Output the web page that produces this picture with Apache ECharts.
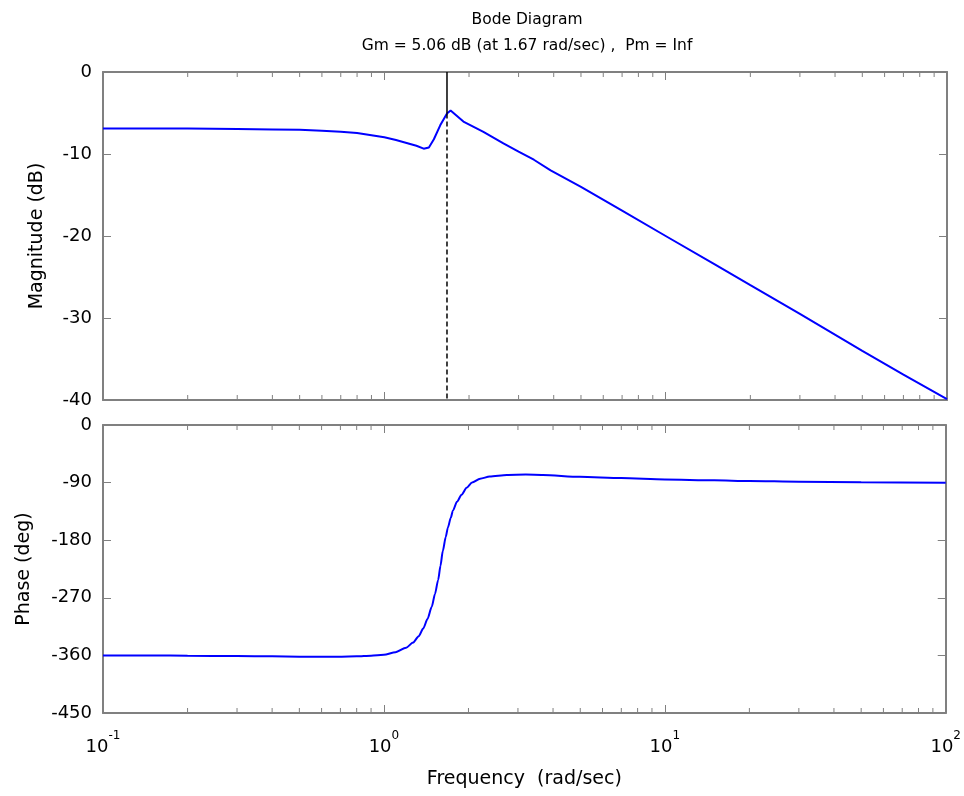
<!DOCTYPE html>
<html>
<head>
<meta charset="utf-8">
<script src="https://cdn.jsdelivr.net/npm/echarts@6/dist/echarts.min.js"></script>
<style>html,body{margin:0;padding:0;background:#fff}#chart{width:964px;height:796px}</style>
</head>
<body>
<div id="chart"></div>
<script>
// ---- data ----
const magFreq = [0.1, 0.2, 0.3, 0.4, 0.5, 0.6, 0.7, 0.8, 0.9, 1.0, 1.1, 1.2, 1.3, 1.38, 1.44, 1.5, 1.58, 1.67, 1.72, 1.91, 2.25, 2.65, 3.0, 3.4, 3.9, 5, 7, 10, 15, 20, 30, 50, 70, 100];
const magDb   = [-6.9, -6.9, -6.95, -7.0, -7.05, -7.15, -7.3, -7.45, -7.7, -7.95, -8.3, -8.65, -9.0, -9.35, -9.2, -8.2, -6.5, -5.06, -4.7, -6.05, -7.3, -8.7, -9.7, -10.7, -12.0, -14.0, -16.9, -20.0, -23.5, -26.0, -29.5, -34.0, -36.9, -39.9];
const phaseFreq = [0.1, 0.15, 0.2, 0.3, 0.4, 0.5, 0.6, 0.7, 0.8, 0.9, 1.0, 1.1, 1.2, 1.27, 1.33, 1.38, 1.43, 1.48, 1.52, 1.56, 1.59, 1.62, 1.66, 1.69, 1.73, 1.76, 1.82, 1.89, 1.97, 2.06, 2.2, 2.38, 2.74, 3.2, 3.68, 4.98, 7, 10, 15, 20, 30, 50, 100];
const phaseDeg  = [-360, -360, -360.5, -361, -361.5, -362, -362, -362, -361.5, -360.5, -359, -355, -348, -340, -330, -318, -303, -284, -264, -242, -220, -197, -175, -160, -145, -134, -120, -109, -98, -90, -84, -80.5, -78, -77.5, -78, -81, -83, -85, -86.5, -87.5, -88.5, -89.3, -90.3];
const gmFreq = 1.67;      // rad/sec
const gmMargin = 5.06;    // dB
const gmCurveDb = -5.06;  // magnitude at the gain-margin frequency
const magTicks = [-40, -30, -20, -10, 0];
const phaseTicks = [-450, -360, -270, -180, -90, 0];
const freqDecades = [0.1, 1, 10, 100];
const minorFreqTicks = [0.2, 0.3, 0.4, 0.5, 0.6, 0.7, 0.8, 0.9, 2, 3, 4, 5, 6, 7, 8, 9, 20, 30, 40, 50, 60, 70, 80, 90];
const titleLine1 = 'Bode Diagram';
const titleLine2 = 'Gm = ' + gmMargin.toFixed(2) + ' dB (at ' + gmFreq + ' rad/sec) ,  Pm = Inf';

// ---- styling ----
const FONT = 'DejaVu Sans';
const frameColor = '#808080';
const chart = echarts.init(document.getElementById('chart'), null, {renderer: 'canvas'});

function xAxisCfg(gridIndex, position, showLabel, name) {
  return {
    type: 'log', logBase: 10, min: freqDecades[0], max: freqDecades[freqDecades.length - 1],
    gridIndex: gridIndex, position: position,
    name: name || '', nameLocation: 'middle', nameGap: 57,
    nameTextStyle: {fontFamily: FONT, fontSize: 19, color: '#000'},
    axisLine: {show: true, onZero: false, lineStyle: {color: frameColor, width: 2}},
    axisTick: {show: true, inside: true, length: 8, lineStyle: {color: frameColor, width: 1}},
    axisLabel: {
      show: showLabel, margin: 24, color: '#000', fontFamily: FONT,
      formatter: function (v) {
        const e = Math.round(Math.log10(v));
        return '{b|10}{s|' + e + '}';
      },
      rich: {
        b: {fontFamily: FONT, fontSize: 18, color: '#000', lineHeight: 20},
        s: {fontFamily: FONT, fontSize: 12, color: '#000', lineHeight: 14, padding: [0, 0, 22, 0]}
      }
    },
    splitLine: {show: false}, minorTick: {show: false}
  };
}
function yAxisCfg(gridIndex, position, showLabel, ticks, name, nameGap) {
  return {
    type: 'value', gridIndex: gridIndex, position: position,
    min: ticks[0], max: ticks[ticks.length - 1], interval: ticks[1] - ticks[0],
    name: name || '', nameLocation: 'middle', nameGap: nameGap || 0,
    nameTextStyle: {fontFamily: FONT, fontSize: 19, color: '#000'},
    axisLine: {show: true, onZero: false, lineStyle: {color: frameColor, width: 2}},
    axisTick: {show: true, inside: true, length: 8, lineStyle: {color: frameColor, width: 1}},
    axisLabel: {show: showLabel, margin: 11, color: '#000', fontFamily: FONT, fontSize: 18},
    splitLine: {show: false}
  };
}
function minorTickSeries(xIdx, yIdx, yTicks) {
  const yMin = yTicks[0], yMax = yTicks[yTicks.length - 1];
  return {
    type: 'custom', xAxisIndex: xIdx, yAxisIndex: yIdx, silent: true, clip: false, z: 5,
    data: minorFreqTicks.map(function (v) { return [v, yMin]; }),
    renderItem: function (params, api) {
      const v = api.value(0);
      const b = api.coord([v, yMin]);
      const t = api.coord([v, yMax]);
      const st = {stroke: frameColor, lineWidth: 1};
      return {type: 'group', children: [
        {type: 'line', shape: {x1: b[0], y1: b[1], x2: b[0], y2: b[1] - 5}, style: st},
        {type: 'line', shape: {x1: t[0], y1: t[1], x2: t[0], y2: t[1] + 5}, style: st}
      ]};
    }
  };
}

const option = {
  animation: false,
  backgroundColor: '#fff',
  title: {
    text: titleLine1 + '\n' + titleLine2,
    left: 522, top: 2, textAlign: 'center',
    textStyle: {fontFamily: FONT, fontSize: 15.5, fontWeight: 'normal', color: '#000', lineHeight: 26}
  },
  grid: [
    {left: 103, top: 72, width: 844, height: 328, containLabel: false},
    {left: 103, top: 425, width: 844, height: 288, containLabel: false}
  ],
  xAxis: [
    xAxisCfg(0, 'bottom', false),
    xAxisCfg(0, 'top', false),
    xAxisCfg(1, 'bottom', true, 'Frequency  (rad/sec)'),
    xAxisCfg(1, 'top', false)
  ],
  yAxis: [
    yAxisCfg(0, 'left', true, magTicks, 'Magnitude (dB)', 56),
    yAxisCfg(0, 'right', false, magTicks),
    yAxisCfg(1, 'left', true, phaseTicks, 'Phase (deg)', 69),
    yAxisCfg(1, 'right', false, phaseTicks)
  ],
  series: [
    minorTickSeries(0, 0, magTicks),
    minorTickSeries(2, 2, phaseTicks),
    {
      type: 'line', xAxisIndex: 0, yAxisIndex: 0, symbol: 'none', z: 3,
      data: magFreq.map(function (f, i) { return [f, magDb[i]]; }),
      lineStyle: {color: '#0000ff', width: 2}
    },
    {
      type: 'line', xAxisIndex: 2, yAxisIndex: 2, symbol: 'none', z: 3,
      smooth: 0.25, smoothMonotone: 'x',
      data: phaseFreq.map(function (f, i) { return [f, phaseDeg[i]]; }),
      lineStyle: {color: '#0000ff', width: 2}
    },
    {
      type: 'line', xAxisIndex: 0, yAxisIndex: 0, symbol: 'none', z: 4,
      data: [[gmFreq, magTicks[magTicks.length - 1]], [gmFreq, gmCurveDb]],
      lineStyle: {color: '#000', width: 1.5, type: 'solid'}
    },
    {
      type: 'line', xAxisIndex: 0, yAxisIndex: 0, symbol: 'none', z: 4,
      data: [[gmFreq, gmCurveDb], [gmFreq, magTicks[0]]],
      lineStyle: {color: '#000', width: 1.5, type: [5, 3]}
    }
  ]
};
chart.setOption(option);
</script>
</body>
</html>
